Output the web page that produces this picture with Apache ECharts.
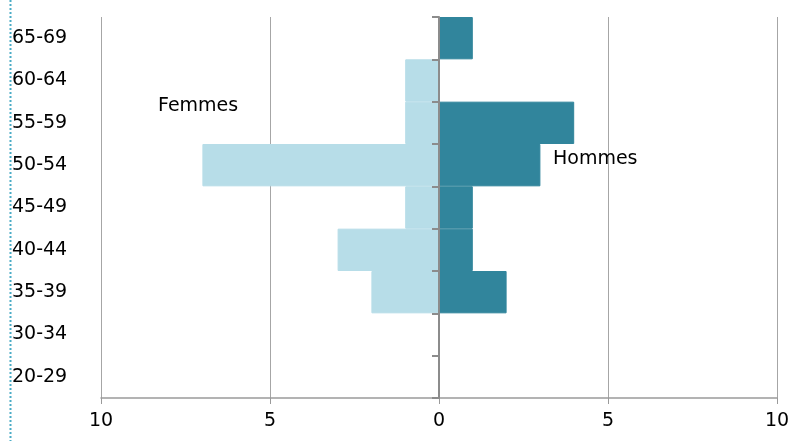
<!DOCTYPE html>
<html>
<head>
<meta charset="utf-8">
<script src="https://cdn.jsdelivr.net/npm/echarts@6/dist/echarts.min.js"></script>
<style>
  html, body { margin: 0; padding: 0; background: #fff; }
  #chart { width: 795px; height: 441px; }
</style>
</head>
<body>
<div id="chart"></div>
<script>
// tranches d'âge, du bas vers le haut
var categories = ['20-29', '30-34', '35-39', '40-44', '45-49', '50-54', '55-59', '60-64', '65-69'];
var femmes = [0, 0, 2, 3, 1, 7, 1, 1, 0];
var hommes = [0, 0, 2, 1, 1, 3, 4, 0, 1];
var xTicks = [-10, -5, 0, 5, 10];

var font = 'DejaVu Sans';
var chart = echarts.init(document.getElementById('chart'));

var option = {
  animation: false,
  grid: { left: 101, right: 18, top: 17, bottom: 43 },
  xAxis: {
    type: 'value',
    min: xTicks[0],
    max: xTicks[xTicks.length - 1],
    interval: 5,
    axisLine: { show: true, onZero: false, lineStyle: { color: '#9a9a9a', width: 1.5 } },
    axisTick: { show: true, length: 6, lineStyle: { color: '#9a9a9a' } },
    splitLine: { show: true, lineStyle: { color: '#a6a6a6', width: 1 } },
    axisLabel: {
      margin: 14,
      color: '#000',
      fontFamily: font,
      fontSize: 19,
      formatter: function (v) { return Math.abs(v); }
    }
  },
  yAxis: [
    {
      // étiquettes à gauche
      type: 'category',
      data: categories,
      position: 'left',
      axisLine: { show: false, onZero: false },
      axisTick: { show: false },
      axisLabel: {
        align: 'left',
        margin: 89,
        color: '#000',
        fontFamily: font,
        fontSize: 19
      }
    },
    {
      // axe central sur zéro, au-dessus des barres
      type: 'category',
      data: categories,
      position: 'right',
      z: 5,
      axisLine: { show: true, onZero: true, lineStyle: { color: '#8c8c8c', width: 2 } },
      axisTick: { show: true, inside: true, length: 7, lineStyle: { color: '#8c8c8c', width: 2 } },
      axisLabel: { show: false }
    }
  ],
  series: [
    {
      name: 'Femmes',
      type: 'bar',
      yAxisIndex: 0,
      barWidth: '100%',
      barGap: '-100%',
      data: femmes.map(function (v) { return -v; }),
      itemStyle: { color: '#b7dde8', borderColor: '#b7dde8', borderWidth: 1 }
    },
    {
      name: 'Hommes',
      type: 'bar',
      yAxisIndex: 0,
      barWidth: '100%',
      barGap: '-100%',
      data: hommes,
      itemStyle: { color: '#31859c', borderColor: '#31859c', borderWidth: 1 }
    }
  ],
  graphic: [
    {
      type: 'line',
      shape: { x1: 10.5, y1: 0, x2: 10.5, y2: 441 },
      style: { stroke: '#4bacc6', lineWidth: 2, lineDash: [2, 2] }
    },
    {
      type: 'text',
      left: 158, top: 97,
      style: { text: 'Femmes', fill: '#000', font: '19px "DejaVu Sans"' }
    },
    {
      type: 'text',
      left: 553, top: 150,
      z: 100,
      style: { text: 'Hommes', fill: '#000', font: '19px "DejaVu Sans"' }
    }
  ]
};

chart.setOption(option);
window.addEventListener('resize', function () {
  chart.resize();
});
</script>
</body>
</html>
